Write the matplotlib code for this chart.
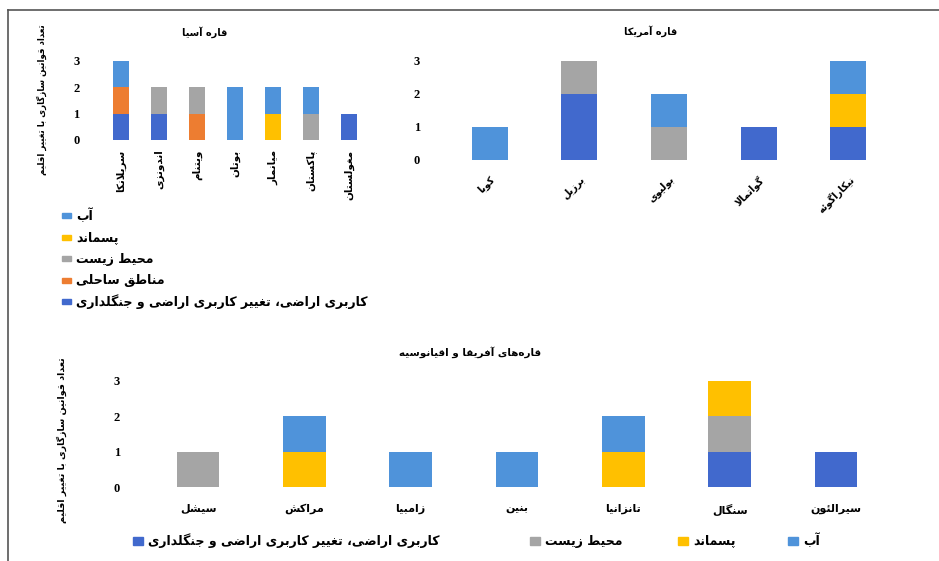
import matplotlib
matplotlib.use("Agg")
import matplotlib.pyplot as plt
import numpy as np
from matplotlib.patches import Rectangle


# Persian letters -> first code point of their presentation forms
# dual-joining: isolated, final, initial, medial
DUAL = {
    "ئ": 0xFE89, "ب": 0xFE8F, "ت": 0xFE95, "ث": 0xFE99, "ج": 0xFE9D,
    "ح": 0xFEA1, "خ": 0xFEA5, "س": 0xFEB1, "ش": 0xFEB5, "ص": 0xFEB9,
    "ض": 0xFEBD, "ط": 0xFEC1, "ظ": 0xFEC5, "ع": 0xFEC9, "غ": 0xFECD,
    "ف": 0xFED1, "ق": 0xFED5, "ل": 0xFEDD, "م": 0xFEE1, "ن": 0xFEE5,
    "ه": 0xFEE9, "ي": 0xFEF1, "پ": 0xFB56, "چ": 0xFB7A, "ک": 0xFB8E,
    "گ": 0xFB92, "ی": 0xFBFC,
}
# right-joining: isolated, final
RIGHT = {
    "آ": 0xFE81, "ا": 0xFE8D, "د": 0xFEA9, "ذ": 0xFEAB, "ر": 0xFEAD,
    "ز": 0xFEAF, "و": 0xFEED, "ژ": 0xFB8A, "ؤ": 0xFE85,
}


def fa(text):
    """Shape Persian text into presentation forms and put it in visual order."""
    out = []
    i, n = 0, len(text)
    while i < n:
        c = text[i]
        if c not in DUAL and c not in RIGHT:
            if c != "\u200c":
                out.append(c)
            i += 1
            continue
        prev = text[i - 1] if i > 0 else ""
        link_prev = prev in DUAL
        if c == "ل" and i + 1 < n and text[i + 1] in "اآ":
            base = 0xFEFB if text[i + 1] == "ا" else 0xFEF5
            out.append(chr(base + (1 if link_prev else 0)))
            i += 2
            continue
        nxt = text[i + 1] if i + 1 < n else ""
        link_next = c in DUAL and (nxt in DUAL or nxt in RIGHT)
        base = DUAL.get(c, RIGHT.get(c))
        if link_prev and link_next:
            off = 3
        elif link_prev:
            off = 1
        elif link_next:
            off = 2
        else:
            off = 0
        out.append(chr(base + off))
        i += 1
    return "".join(reversed(out))


# ---- data -------------------------------------------------------------
series_names = ["کاربری اراضی، تغییر کاربری اراضی و جنگلداری", "مناطق ساحلی",
                "محیط زیست", "پسماند", "آب"]
series_colors = ["#4169CD", "#ED7D31", "#A5A5A5", "#FFC000", "#4F93DA"]

asia_countries = ["سریلانکا", "اندونزی", "ویتنام", "بوتان", "میانمار", "پاکستان", "مغولستان"]
asia_landuse = [1, 1, 0, 0, 0, 0, 1]
asia_coastal = [1, 0, 1, 0, 0, 0, 0]
asia_env = [0, 1, 1, 0, 0, 1, 0]
asia_waste = [0, 0, 0, 0, 1, 0, 0]
asia_water = [1, 0, 0, 2, 1, 1, 0]

america_countries = ["کوبا", "برزیل", "بولیوی", "گواتمالا", "نیکاراگوئه"]
america_landuse = [0, 2, 0, 1, 1]
america_coastal = [0, 0, 0, 0, 0]
america_env = [0, 1, 1, 0, 0]
america_waste = [0, 0, 0, 0, 1]
america_water = [1, 0, 1, 0, 1]

africa_countries = ["سیشل", "مراکش", "زامبیا", "بنین", "تانزانیا", "سنگال", "سیرالئون"]
africa_landuse = [0, 0, 0, 0, 0, 1, 1]
africa_coastal = [0, 0, 0, 0, 0, 0, 0]
africa_env = [1, 0, 0, 0, 0, 1, 0]
africa_waste = [0, 1, 0, 0, 1, 1, 0]
africa_water = [0, 1, 1, 1, 1, 0, 0]

y_ticks = [0, 1, 2, 3]
y_label = "تعداد قوانین سازگاری با تغییر اقلیم"

FA_FONT = ["DejaVu Sans"]
NUM_FONT = ["Liberation Serif", "DejaVu Serif"]

W, H = 939, 561
fig = plt.figure(figsize=(W / 100, H / 100), dpi=100)


def fx(px):
    return px / W


def fy(py):
    return 1 - py / H


def px_axes(x0, x1, y_top, y_bot):
    return fig.add_axes([fx(x0), fy(y_bot), (x1 - x0) / W, (y_bot - y_top) / H])


def stacked(ax, countries, layers, width, tick_pad):
    x = np.arange(len(countries))
    bottom = np.zeros(len(countries))
    for vals, color in zip(layers, series_colors):
        vals = np.asarray(vals, dtype=float)
        ax.bar(x, vals, width, bottom=bottom, color=color, edgecolor="none")
        bottom += vals
    ax.set_xlim(-0.5, len(countries) - 0.5)
    ax.set_ylim(0, 3.3)
    ax.set_yticks(y_ticks)
    ax.set_yticklabels([str(t) for t in y_ticks], family=NUM_FONT,
                       fontweight="bold", fontsize=9)
    ax.tick_params(axis="y", length=0, pad=tick_pad)
    ax.tick_params(axis="x", length=0)
    for s in ax.spines.values():
        s.set_visible(False)
    ax.set_xticks(x)
    return x


def legend_entry(x_marker, y_center, idx, size, mw=10, mh=6):
    fig.add_artist(Rectangle((fx(x_marker), fy(y_center + mh / 2)), mw / W, mh / H,
                             transform=fig.transFigure, color=series_colors[idx]))
    fig.text(fx(x_marker + mw + 5), fy(y_center), fa(series_names[idx]), family=FA_FONT,
             fontweight="bold", fontsize=size, ha="left", va="center")


# ---- Asia ---------------------------------------------------------------
ax1 = px_axes(102, 368, 53, 140)
stacked(ax1, asia_countries,
        [asia_landuse, asia_coastal, asia_env, asia_waste, asia_water], 0.42, 16)
ax1.set_xticklabels([fa(c) for c in asia_countries], rotation=90, family=FA_FONT,
                    fontweight="bold", fontsize=7.5, va="top", ha="center")
ax1.tick_params(axis="x", pad=7)
fig.text(fx(205), fy(32), fa("قاره آسیا"), family=FA_FONT, fontweight="bold",
         fontsize=7, ha="center", va="center")
fig.text(fx(42), fy(100), fa(y_label), family=FA_FONT, fontweight="bold",
         fontsize=6.2, rotation=90, ha="center", va="center")

# ---- America ------------------------------------------------------------
ax2 = px_axes(445, 893, 51, 160)
stacked(ax2, america_countries,
        [america_landuse, america_coastal, america_env, america_waste, america_water], 0.4, 18)
ax2.set_xticklabels([fa(c) for c in america_countries], rotation=45, family=FA_FONT,
                    fontweight="bold", fontsize=7, ha="right", va="top",
                    rotation_mode="anchor")
ax2.tick_params(axis="x", pad=10)
fig.text(fx(651), fy(31), fa("قاره آمریکا"), family=FA_FONT, fontweight="bold",
         fontsize=7, ha="center", va="center")

# ---- Africa & Oceania -----------------------------------------------------
ax3 = px_axes(145, 889, 370, 487)
stacked(ax3, africa_countries,
        [africa_landuse, africa_coastal, africa_env, africa_waste, africa_water], 0.4, 18)
ax3.set_xticklabels([fa(c) for c in africa_countries], family=FA_FONT,
                    fontweight="bold", fontsize=8)
ax3.tick_params(axis="x", pad=12)
fig.text(fx(470), fy(352), fa("قاره\u200cهای آفریقا و اقیانوسیه"), family=FA_FONT,
         fontweight="bold", fontsize=7.5, ha="center", va="center")
fig.text(fx(62), fy(440), fa(y_label), family=FA_FONT, fontweight="bold",
         fontsize=6.8, rotation=90, ha="center", va="center")

# ---- legends ----------------------------------------------------------------
for row, idx in enumerate([4, 3, 2, 1, 0]):
    legend_entry(62, 216 + row * 21.5, idx, 9, mw=9, mh=5)

for x_marker, idx in zip([133, 530, 678, 788], [0, 2, 3, 4]):
    legend_entry(x_marker, 541, idx, 9, mw=10, mh=8)

# frame lines of the original picture
fig.add_artist(plt.Line2D([fx(8), 1], [fy(10), fy(10)], color="#555555", lw=1.2))
fig.add_artist(plt.Line2D([fx(8), fx(8)], [0, fy(10)], color="#555555", lw=1.2))

fig.savefig("out.png", dpi=100)
